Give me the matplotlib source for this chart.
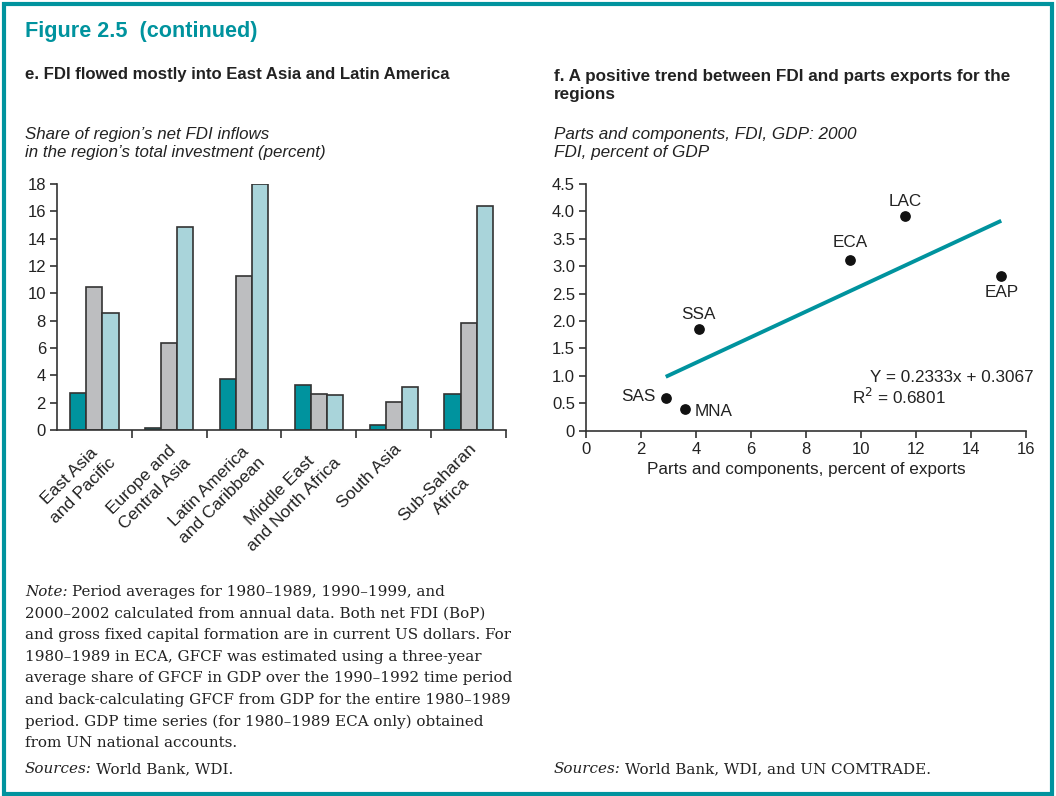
import matplotlib
matplotlib.use("Agg")
import matplotlib.pyplot as plt
import matplotlib.patches as patches
import numpy as np

# --------------------------- Data ---------------------------- #
regions = ["East Asia\nand Pacific", "Europe and\nCentral Asia", "Latin America\nand Caribbean",
           "Middle East\nand North Africa", "South Asia", "Sub-Saharan\nAfrica"]
fdi_1980s = [2.7, 0.12, 3.7, 3.3, 0.37, 2.67]
fdi_1990s = [10.45, 6.4, 11.25, 2.66, 2.05, 7.82]
fdi_2000s = [8.55, 14.83, 18.0, 2.54, 3.18, 16.38]

codes = ["LAC", "ECA", "EAP", "SSA", "SAS", "MNA"]
parts_share = [11.6, 9.6, 15.1, 4.1, 2.9, 3.6]
fdi_gdp = [3.91, 3.12, 2.83, 1.85, 0.60, 0.40]
slope, intercept = 0.2333, 0.3067

# --------------------------- Style ---------------------------- #
TEAL = "#00939e"
GRAY = "#bdbec0"
LIGHT = "#a9d4da"
EDGE = "#333333"
TXT = "#222222"
SANS = "Liberation Sans"
SERIF = "DejaVu Serif"
NOTE_FS = 10.9

plt.rcParams["font.family"] = SANS
plt.rcParams["axes.edgecolor"] = EDGE
plt.rcParams["xtick.color"] = EDGE
plt.rcParams["ytick.color"] = EDGE
plt.rcParams["xtick.labelcolor"] = TXT
plt.rcParams["ytick.labelcolor"] = TXT

W, H = 1056, 796
fig = plt.figure(figsize=(W / 100, H / 100), dpi=100)

def fx(px):
    return px / W

def fy(py):
    return 1 - py / H

# frame round the figure
fig.patches.append(patches.Rectangle((fx(4), fy(794)), fx(1048), 790 / H, transform=fig.transFigure,
                                     fill=False, edgecolor=TEAL, linewidth=3))

fig.text(fx(25), fy(32), "Figure 2.5  (continued)", color=TEAL, fontsize=15.6, fontweight="bold",
         va="center", ha="left")

# --------------------------- Panel e ---------------------------- #
fig.text(fx(25), fy(75), "e. FDI flowed mostly into East Asia and Latin America", fontsize=12.1,
         fontweight="bold", color=TXT, va="center")
fig.text(fx(25), fy(144), "Share of region\u2019s net FDI inflows\nin the region\u2019s total investment (percent)",
         fontsize=12.2, style="italic", color=TXT, va="center", linespacing=1.25)

ax1 = fig.add_axes([fx(57), fy(430), fx(506 - 57), (430 - 184) / H])
x = np.arange(len(regions))
bw = 0.215
for off, vals, col in [(-bw, fdi_1980s, TEAL), (0, fdi_1990s, GRAY), (bw, fdi_2000s, LIGHT)]:
    ax1.bar(x + off, vals, width=bw, color=col, edgecolor=EDGE, linewidth=1.2)
ax1.set_xlim(-0.5, len(regions) - 0.5)
ax1.set_ylim(0, 18)
ax1.set_yticks(range(0, 19, 2))
ax1.set_xticks(x)
ax1.set_xticklabels(regions, rotation=45, ha="right", rotation_mode="anchor", multialignment="center")
for lab in ax1.get_xticklabels():
    lab.set_linespacing(1.35)
ax1.set_xticks(x + 0.5, minor=True)
ax1.tick_params(axis="x", which="major", length=0, pad=8, labelsize=12.5)
ax1.tick_params(axis="x", which="minor", length=6, width=1.2, direction="out")
ax1.tick_params(axis="y", length=5, width=1.2, labelsize=12, pad=3)
for s in ["top", "right"]:
    ax1.spines[s].set_visible(False)
for s in ["left", "bottom"]:
    ax1.spines[s].set_linewidth(1.2)
ax1.set_facecolor("none")

# --------------------------- Panel f ---------------------------- #
fig.text(fx(554), fy(85.5), "f. A positive trend between FDI and parts exports for the\nregions", fontsize=12.3,
         fontweight="bold", color=TXT, va="center", linespacing=1.3)
fig.text(fx(554), fy(144), "Parts and components, FDI, GDP: 2000\nFDI, percent of GDP",
         fontsize=12.3, style="italic", color=TXT, va="center", linespacing=1.25)

ax2 = fig.add_axes([fx(586), fy(430.7), fx(1026 - 586), (430.7 - 184) / H])
ax2.scatter(parts_share, fdi_gdp, s=45, color="#111111", zorder=3)
xl = np.array([min(parts_share), max(parts_share)])
ax2.plot(xl, slope * xl + intercept, color=TEAL, linewidth=2.8, solid_capstyle="butt")
ax2.set_xlim(0, 16)
ax2.set_ylim(0, 4.5)
ax2.set_xticks(range(0, 17, 2))
ax2.set_yticks(np.arange(0, 4.6, 0.5))
ax2.set_yticklabels(["0"] + [f"{v:.1f}" for v in np.arange(0.5, 4.6, 0.5)])
ax2.tick_params(length=5, width=1.2, labelsize=12, pad=3)
for s in ["top", "right"]:
    ax2.spines[s].set_visible(False)
for s in ["left", "bottom"]:
    ax2.spines[s].set_linewidth(1.2)
ax2.set_xlabel("Parts and components, percent of exports", fontsize=12.3, color=TXT, labelpad=4)

label_pos = {"LAC": (0, 11, "center", "center"), "ECA": (0, 12, "center", "center"),
             "EAP": (0, -12.5, "center", "center"), "SSA": (0, 11, "center", "center"),
             "SAS": (-7, 1, "right", "center"), "MNA": (7, -2, "left", "center")}
for c, xv, yv in zip(codes, parts_share, fdi_gdp):
    dx, dy, ha, va = label_pos[c]
    ax2.annotate(c, (xv, yv), xytext=(dx, dy), textcoords="offset points", ha=ha, va=va,
                 fontsize=12.3, color=TXT)

fig.text(fx(1034), fy(377), f"Y = {slope}x + {intercept}", fontsize=12.3, color=TXT,
         ha="right", va="center")
fig.text(fx(852), fy(397), "R$^2$ = 0.6801", fontsize=12.3, color=TXT, va="center")

# --------------------------- Notes ---------------------------- #
note_lines = [
    "Period averages for 1980\u20131989, 1990\u20131999, and",
    "2000\u20132002 calculated from annual data. Both net FDI (BoP)",
    "and gross fixed capital formation are in current US dollars. For",
    "1980\u20131989 in ECA, GFCF was estimated using a three-year",
    "average share of GFCF in GDP over the 1990\u20131992 time period",
    "and back-calculating GFCF from GDP for the entire 1980\u20131989",
    "period. GDP time series (for 1980\u20131989 ECA only) obtained",
    "from UN national accounts.",
]
y0 = 592
for i, line in enumerate(note_lines):
    fig.text(fx(25), fy(y0 + i * 21.6), line, family=SERIF, fontsize=NOTE_FS, color=TXT, va="center")
t = fig.text(fx(25), fy(y0), "Note:", family=SERIF, fontsize=NOTE_FS, style="italic", color=TXT, va="center")

fig.text(fx(25), fy(769), "Sources:", family=SERIF, fontsize=NOTE_FS, style="italic", color=TXT, va="center")
fig.text(fx(554), fy(769), "Sources:", family=SERIF, fontsize=NOTE_FS, style="italic", color=TXT, va="center")

# the first note line and the sources follow the italic heads
fig.canvas.draw()
r = fig.canvas.get_renderer()
w_note = t.get_window_extent(r).width
for txt in fig.texts:
    if txt.get_text() == note_lines[0]:
        txt.set_position((fx(25 + w_note + 4), fy(y0)))
w_src = fig.texts[-1].get_window_extent(r).width
fig.text(fx(25 + w_src + 4), fy(769), "World Bank, WDI.", family=SERIF, fontsize=NOTE_FS, color=TXT, va="center")
fig.text(fx(554 + w_src + 4), fy(769), "World Bank, WDI, and UN COMTRADE.", family=SERIF, fontsize=NOTE_FS,
         color=TXT, va="center")

fig.savefig("out.png", dpi=100)
